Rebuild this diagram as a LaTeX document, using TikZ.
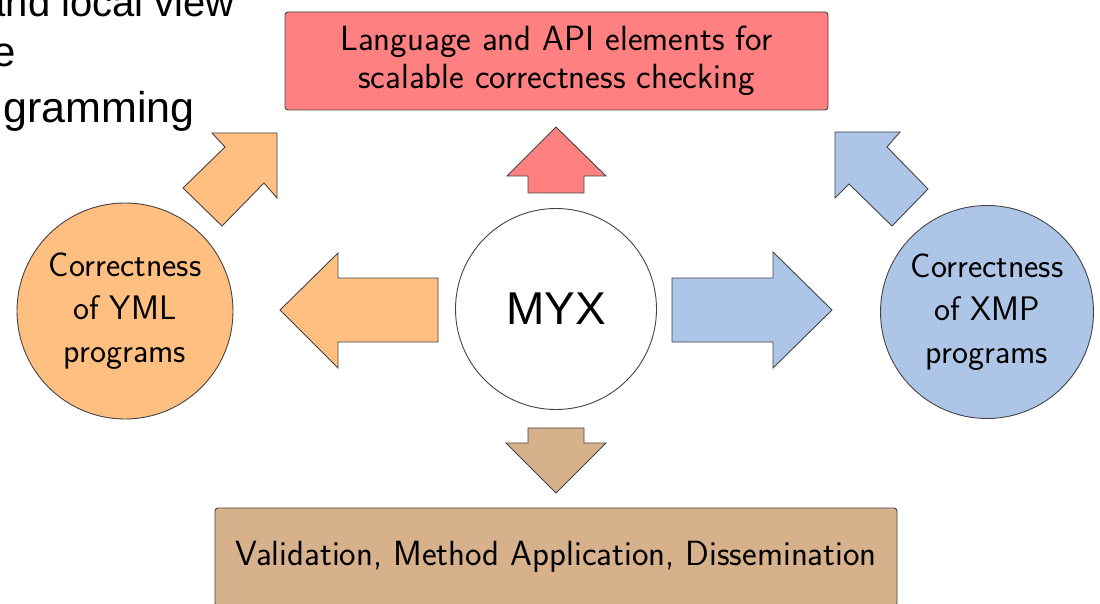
\documentclass[tikz,border=0pt]{standalone}
\usepackage{fontspec}
\newfontfamily\arialfont{Liberation Sans}
\definecolor{cred}{HTML}{FF8080}
\definecolor{corange}{HTML}{FFBF80}
\definecolor{cblue}{HTML}{ADC5E7}
\definecolor{ctan}{HTML}{D7B18B}
\definecolor{cline}{HTML}{444444}
\tikzset{
  blockarrow/.style={draw=cline, line width=0.9pt, line join=miter},
  topicbox/.style={draw=cline, line width=0.9pt, rounded corners=3pt, font=\sffamily\fontsize{35}{38}\selectfont, align=center, inner sep=0pt},
  topiccircle/.style={circle, draw=cline, line width=0.9pt, minimum size=216pt, inner sep=0pt, font=\sffamily\fontsize{34}{43}\selectfont, align=center},
  slidetext/.style={font=\arialfont\fontsize{42}{50}\selectfont, inner sep=0pt, anchor=base east}
}
\begin{document}
\begin{tikzpicture}[x=1pt,y=-1pt]
\useasboundingbox (0,0) rectangle (1100,604);
\fill[white] (0,0) rectangle (1100,604);
\begin{scope}
\clip (0,0) rectangle (1100,604);
% partial slide text at top left
\node[slidetext, font=\arialfont\fontsize{40}{50}\selectfont] (t1) at (235,17) {and local view};
\node[slidetext] (t2) at (16,67) {e};
\node[slidetext, font=\arialfont\fontsize{43}{50}\selectfont] (t3) at (195,123) {gramming};
% boxes
\node[topicbox, fill=cred, minimum width=543pt, minimum height=98pt] (lang) at (556.5,61) {Language and API elements for\\scalable correctness checking};
\node[topicbox, fill=ctan, minimum width=682pt, minimum height=98pt] (valid) at (556,557) {Validation, Method Application, Dissemination};
% circles
\node[topiccircle, fill=corange] (yml) at (125,311) {Correctness\\of YML\\programs};
\node[topiccircle, fill=cblue, minimum size=213pt] (xmp) at (987,312) {Correctness\\of XMP\\programs};
\node[circle, draw=cline, line width=0.9pt, fill=white, minimum size=201pt, inner sep=0pt, font=\arialfont\fontsize{46}{50}\selectfont] (myx) at (556,309) {MYX};
% block arrows
\draw[blockarrow, fill=corange] (438,278) -- (338,278) -- (338,253) -- (280,310) -- (338,368) -- (338,342) -- (438,342) -- cycle;
\draw[blockarrow, fill=cblue] (672,278) -- (773,278) -- (773,252) -- (832,310) -- (773,368) -- (773,342) -- (672,342) -- cycle;
\draw[blockarrow, fill=cred] (528,193) -- (528,176) -- (507,176) -- (556,127) -- (606,176) -- (584,176) -- (584,193) -- cycle;
\draw[blockarrow, fill=ctan] (528,428) -- (528,443) -- (506,443) -- (556,493) -- (606,443) -- (584,443) -- (584,428) -- cycle;
\draw[blockarrow, fill=corange] (277,133) -- (212,133) -- (225,147) -- (183,188) -- (222,226) -- (264,183) -- (277,198) -- cycle;
\draw[blockarrow, fill=cblue] (835,132) -- (900,132) -- (887,147) -- (928,189) -- (892,226) -- (849,184) -- (835,198) -- cycle;
\end{scope}
\end{tikzpicture}
\end{document}
